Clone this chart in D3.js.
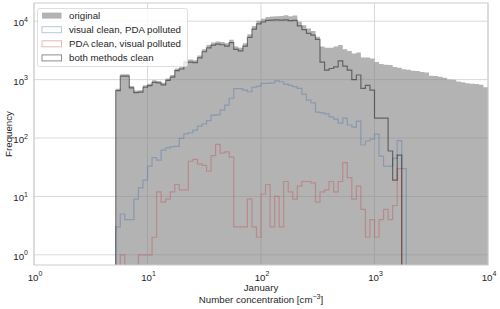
<!DOCTYPE html>
<html>
<head>
<meta charset="utf-8">
<script src="https://cdn.jsdelivr.net/npm/d3@7"></script>
<style>
  body { margin: 0; background: #fff; }
  svg text { font-family: "Liberation Sans", Arial, sans-serif; fill: #262626; }
</style>
</head>
<body>
<div class="container"></div>
<script>
// histogram bins, same as np.logspace(0, 4, 101)
const binEdges = d3.range(101).map(i => Math.pow(10, i / 25));

// first non-empty bin of every series
const firstBin = 18;

// counts per bin, starting at firstBin
const original = [
  700, 1240, 1240, 780, 650, 660, 800, 850, 980, 950,
  880, 1050, 1200, 1550, 1650, 2150, 2200, 2150, 2600, 3300,
  3900, 4300, 4500, 4400, 4200, 4800, 3700, 3500, 4200, 6000,
  8300, 10200, 11000, 11800, 12000, 12200, 12300, 12600, 12200, 12500,
  9800, 8500, 7500, 6800, 5400, 3700, 3500, 3500, 3700, 3900,
  3300, 3100, 2800, 2900, 2400, 2400, 2300, 2000, 1850, 1800,
  1780, 1650, 1600, 1500, 1480, 1420, 1400, 1350, 1330, 1170,
  1150, 1120, 1080, 1000, 990, 930, 900, 870, 850, 840,
  820, 740
];
const visualCleanPdaPolluted = [
  3, 5, 4, 4, 9, 14, 19, 33, 46, 42,
  62, 68, 71, 72, 99, 118, 123, 137, 160, 174,
  198, 247, 250, 300, 366, 480, 700, 700, 660, 620,
  740, 775, 860, 860, 880, 955, 920, 840, 800, 760,
  710, 565, 446, 400, 277, 270, 260, 230, 210, 180,
  220, 167, 154, 195, 76, 89, 96, 117, 49, 33,
  33, 45, 90, 30
];
const pdaCleanVisualPolluted = [
  0, 1, 0, 0, 0, 1, 1, 1, 2, 12,
  8, 9, 12, 16, 13, 13, 40, 43, 36, 34,
  27, 50, 78, 55, 58, 47, 3, 3, 3, 9,
  3, 2, 11, 16, 3, 10, 3, 18, 12, 9,
  15, 18, 18, 17, 8, 12, 13, 18, 12, 18,
  38, 21, 9, 15, 6, 2, 4, 2, 4, 6,
  4, 7, 30, 0
];
const bothClean = [
  650, 1150, 1150, 720, 600, 610, 740, 790, 900, 880,
  810, 970, 1100, 1420, 1520, 1950, 2000, 1950, 2350, 3000,
  3500, 3900, 4050, 3950, 3750, 4300, 3300, 3100, 3750, 5300,
  7300, 9000, 9700, 10300, 10400, 10500, 10400, 10500, 10200, 10300,
  8300, 7200, 6200, 5800, 4900, 2000, 1450, 1550, 1650, 2100,
  1700, 1450, 1000, 1200, 710, 800, 660, 220, 220, 220,
  60, 19, 51, 0
];

const xTicks = [1, 10, 100, 1000, 10000];
const yTicks = [1, 10, 100, 1000, 10000];
const xTickLabels = ["0", "1", "2", "3", "4"];
const yTickLabels = ["0", "1", "2", "3", "4"];
const legendLabels = ["original", "visual clean, PDA polluted", "PDA clean, visual polluted", "both methods clean"];

const w = 500, h = 309;
const pLeft = 34, pRight = 488, pTop = 3, pBottom = 265;
const floor = 0.01;

const x = d3.scaleLog().domain([1, 1e4]).range([pLeft, pRight]);
const y = d3.scaleLog().domain([0.67, 2.05e4]).range([pBottom, pTop]);

const svg = d3.select(".container")
  .append("svg")
  .attr("width", w)
  .attr("height", h);

svg.append("defs").append("clipPath").attr("id", "plot")
  .append("rect")
  .attr("x", pLeft).attr("y", pTop)
  .attr("width", pRight - pLeft).attr("height", pBottom - pTop);

// grid
const grid = svg.append("g").attr("stroke", "#d9d9d9").attr("stroke-width", 1);
grid.selectAll(".gx").data(xTicks).enter().append("line")
  .attr("x1", d => x(d)).attr("x2", d => x(d))
  .attr("y1", pTop).attr("y2", pBottom);
grid.selectAll(".gy").data(yTicks).enter().append("line")
  .attr("x1", pLeft).attr("x2", pRight)
  .attr("y1", d => y(d)).attr("y2", d => y(d));

function stepPoints(values) {
  const pts = [[binEdges[firstBin], floor]];
  values.forEach((v, i) => {
    const vv = v > 0 ? v : floor;
    pts.push([binEdges[firstBin + i], vv], [binEdges[firstBin + i + 1], vv]);
  });
  pts.push([binEdges[firstBin + values.length], floor]);
  return pts;
}

const line = d3.line().x(d => x(d[0])).y(d => y(d[1]));
const area = d3.area().x(d => x(d[0])).y0(y(floor)).y1(d => y(d[1]));

const plot = svg.append("g").attr("clip-path", "url(#plot)");

plot.append("path")
  .attr("d", area(stepPoints(original)))
  .attr("fill", "#808080")
  .attr("fill-opacity", 0.6);

const steps = [
  {values: visualCleanPdaPolluted, color: "#4c72b0", op: 0.4},
  {values: pdaCleanVisualPolluted, color: "#c44e52", op: 0.4},
  {values: bothClean, color: "#000000", op: 0.45}
];

steps.forEach(s => {
  plot.append("path")
    .attr("d", line(stepPoints(s.values)))
    .attr("fill", "none")
    .attr("stroke", s.color)
    .attr("stroke-opacity", s.op)
    .attr("stroke-width", 1.2);
});

// frame
svg.append("rect")
  .attr("x", pLeft).attr("y", pTop)
  .attr("width", pRight - pLeft).attr("height", pBottom - pTop)
  .attr("fill", "none")
  .attr("stroke", "#cccccc")
  .attr("stroke-width", 1);

// tick labels
const yl = svg.append("g");
yTicks.forEach((t, i) => {
  const txt = yl.append("text")
    .attr("x", 28)
    .attr("y", y(t) + 5)
    .attr("text-anchor", "end")
    .style("font-size", "9.7px");
  txt.append("tspan").text("10");
  txt.append("tspan").attr("dy", -4.5).style("font-size", "7px").text(yTickLabels[i]);
});

const xl = svg.append("g");
xTicks.forEach((t, i) => {
  const txt = xl.append("text")
    .attr("x", x(t) + 1)
    .attr("y", 280.5)
    .attr("text-anchor", "middle")
    .style("font-size", "9.7px");
  txt.append("tspan").text("10");
  txt.append("tspan").attr("dy", -4.5).style("font-size", "7px").text(xTickLabels[i]);
});

// axis labels
svg.append("text")
  .attr("x", (pLeft + pRight) / 2)
  .attr("y", 290.5)
  .attr("text-anchor", "middle")
  .style("font-size", "9.7px")
  .text("January");

const xlab = svg.append("text")
  .attr("x", (pLeft + pRight) / 2)
  .attr("y", 303)
  .attr("text-anchor", "middle")
  .style("font-size", "9.7px");
xlab.append("tspan").text("Number concentration [cm");
xlab.append("tspan").attr("dy", -4).style("font-size", "7px").text("\u22123");
xlab.append("tspan").attr("dy", 4).text("]");

svg.append("text")
  .attr("transform", `translate(12, ${(pTop + pBottom) / 2}) rotate(-90)`)
  .attr("text-anchor", "middle")
  .style("font-size", "9.7px")
  .text("Frequency");

// legend
const lg = svg.append("g");
lg.append("rect")
  .attr("x", 37.5).attr("y", 8.5)
  .attr("width", 150).attr("height", 58)
  .attr("rx", 2)
  .attr("fill", "#ffffff")
  .attr("fill-opacity", 0.8)
  .attr("stroke", "#d6d6d6")
  .attr("stroke-width", 0.8);

const legendStyle = [
  {fill: "#808080", fop: 0.6, stroke: "none", sop: 0},
  {fill: "none", fop: 0, stroke: "#4c72b0", sop: 0.4},
  {fill: "none", fop: 0, stroke: "#c44e52", sop: 0.4},
  {fill: "none", fop: 0, stroke: "#000000", sop: 0.45}
];

legendLabels.forEach((lab, i) => {
  const cy = 15.6 + i * 14.1;
  const st = legendStyle[i];
  lg.append("rect")
    .attr("x", 42).attr("y", cy - 3)
    .attr("width", 19.5).attr("height", 6)
    .attr("fill", st.fill)
    .attr("fill-opacity", st.fop)
    .attr("stroke", st.stroke)
    .attr("stroke-opacity", st.sop)
    .attr("stroke-width", 1);
  lg.append("text")
    .attr("x", 69)
    .attr("y", cy + 3.5)
    .style("font-size", "9.7px")
    .text(lab);
});
</script>
</body>
</html>
